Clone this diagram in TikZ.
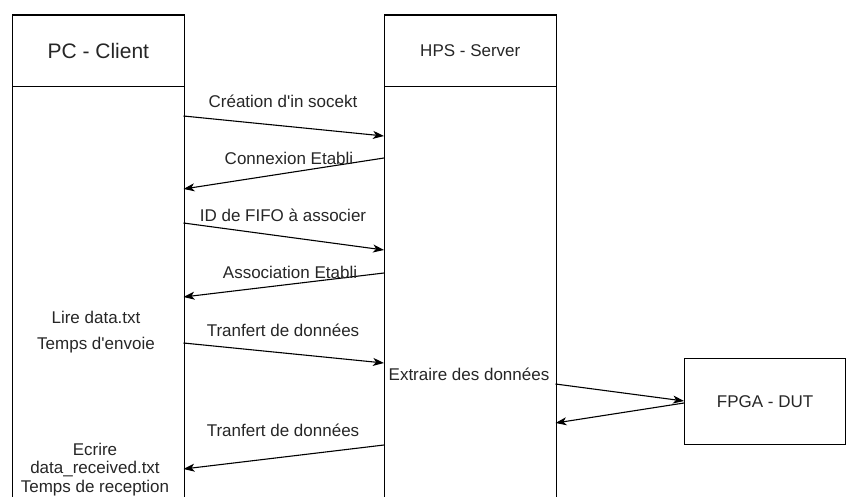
\documentclass[tikz,border=0pt]{standalone}
\usepackage{fontspec}
\setmainfont{Liberation Sans}[Ligatures=TeXOff]
\usetikzlibrary{arrows.meta}
\begin{document}
\begin{tikzpicture}[x=1pt,y=-1pt,line width=1.1pt,
  txt/.style={font=\fontsize{17}{20}\selectfont, inner sep=0pt, text=black!85},
  bigtxt/.style={font=\fontsize{21}{24}\selectfont, inner sep=0pt, text=black!85},
  lane/.style={draw, anchor=north west, minimum width=171.5pt, inner sep=0pt},
  msg/.style={-{Stealth[length=11pt,width=8pt,inset=3pt]}, line width=1.1pt}]
\useasboundingbox (0,0) rectangle (846,497);
\clip (0,0) rectangle (846,497);

% lifelines: header boxes and bodies running past the bottom edge
\node[lane, minimum height=71.5pt] (pc) at (12,14.5) {};
\node[lane, minimum height=440pt] (pcbody) at (12,86) {};
\node[lane, minimum height=71.5pt] (hps) at (384,14.5) {};
\node[lane, minimum height=440pt] (hpsbody) at (384,86) {};
\node[bigtxt] (pct) at (pc.center) {PC - Client};
\node[txt] (hpst) at (hps.center) {HPS - Server};

% device under test
\node[draw, anchor=north west, minimum width=161pt, minimum height=86pt, inner sep=0pt] (fpga) at (684,358) {};
\node[txt] (fpgat) at (fpga.center) {FPGA - DUT};

% message end points on the lifelines
\coordinate (c1) at (183.5,116);  \coordinate (s1) at (384,136);
\coordinate (s2) at (384,158);    \coordinate (c2) at (183.5,189);
\coordinate (c3) at (183.5,223);  \coordinate (s3) at (384,250);
\coordinate (s4) at (384,273);    \coordinate (c4) at (183.5,297);
\coordinate (c5) at (183.5,343);  \coordinate (s5) at (384,363);
\coordinate (s6) at (384,445);    \coordinate (c6) at (183.5,469);
\coordinate (e1) at (555.5,384);  \coordinate (f1) at (684,401);
\coordinate (f2) at (684,403);    \coordinate (e2) at (555.5,423);

\draw[msg] (c1) -- (s1);
\draw[msg] (s2) -- (c2);
\draw[msg] (c3) -- (s3);
\draw[msg] (s4) -- (c4);
\draw[msg] (c5) -- (s5);
\draw[msg] (s6) -- (c6);
\draw[msg] (e1) -- (f1);
\draw[msg] (f2) -- (e2);

% message labels
\node[txt] (l1) at (283,101) {Création d'in socekt};
\node[txt] (l2) at (289,158) {Connexion Etabli};
\node[txt] (l3) at (283,215) {ID de FIFO à associer};
\node[txt] (l4) at (290,272) {Association Etabli};
\node[txt] (l5) at (283,330) {Tranfert de données};
\node[txt] (l6) at (283,430) {Tranfert de données};

% local actions
\node[txt] (a1) at (96,317) {Lire data.txt};
\node[txt] (a2) at (96,345) {Temps d'envoie};
\node[txt] (a3) at (469,374) {Extraire des données};
\node[txt] (a4) at (95,449) {Ecrire};
\node[txt] (a5) at (95,469) {data\_received.txt};
\node[txt] (a6) at (95,488) {Temps de reception};
\end{tikzpicture}
\end{document}
